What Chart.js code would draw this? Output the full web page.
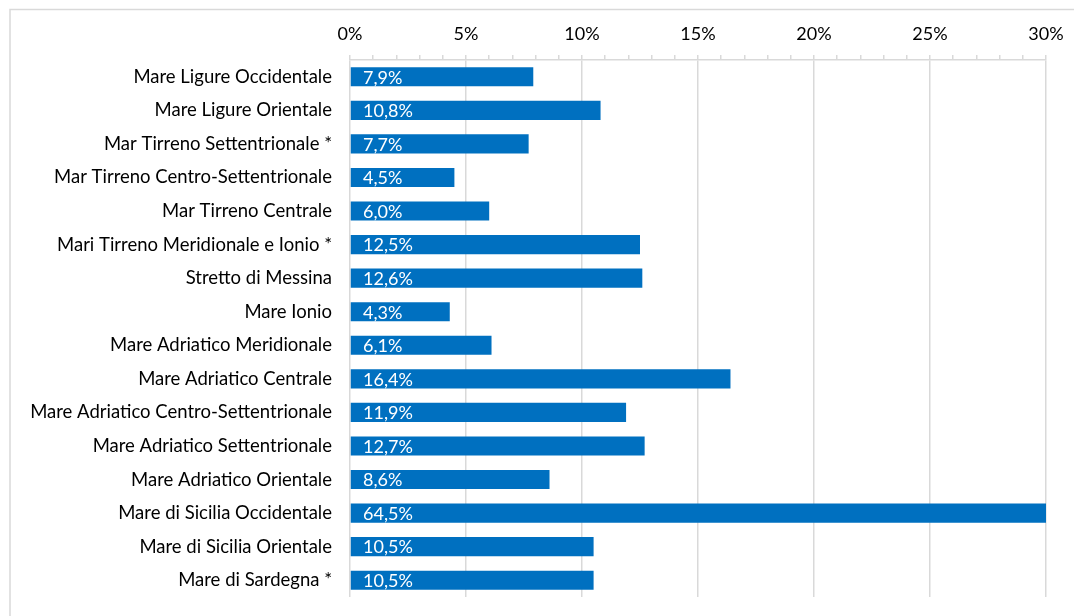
<!DOCTYPE html>
<html>
<head>
<meta charset="utf-8">
<script src="https://cdn.jsdelivr.net/npm/chart.js@4"></script>
<style>
  html, body { margin: 0; padding: 0; background: #fff; }
  #wrap { position: relative; width: 1074px; height: 616px; }
</style>
</head>
<body>
<div id="wrap"><canvas id="chart" width="1074" height="616"></canvas></div>
<script>
const categories = [
  "Mare Ligure Occidentale",
  "Mare Ligure Orientale",
  "Mar Tirreno Settentrionale *",
  "Mar Tirreno Centro-Settentrionale",
  "Mar Tirreno Centrale",
  "Mari Tirreno Meridionale e Ionio *",
  "Stretto di Messina",
  "Mare Ionio",
  "Mare Adriatico Meridionale",
  "Mare Adriatico Centrale",
  "Mare Adriatico Centro-Settentrionale",
  "Mare Adriatico Settentrionale",
  "Mare Adriatico Orientale",
  "Mare di Sicilia Occidentale",
  "Mare di Sicilia Orientale",
  "Mare di Sardegna *",
];
const values = [7.9, 10.8, 7.7, 4.5, 6.0, 12.5, 12.6, 4.3, 6.1, 16.4, 11.9, 12.7, 8.6, 64.5, 10.5, 10.5];
const xTicks = [0, 5, 10, 15, 20, 25, 30];

const FONT = "Lato";
const grey = "#d9d9d9";

// cornice grigia attorno al grafico
const framePlugin = {
  id: "frame",
  beforeDraw(chart) {
    const ctx = chart.ctx;
    ctx.save();
    ctx.strokeStyle = grey;
    ctx.lineWidth = 1.5;
    ctx.strokeRect(10, 9.5, 1100, 700);
    ctx.restore();
  },
};

// etichette dei valori dentro le barre
const labelPlugin = {
  id: "valueLabels",
  afterDatasetsDraw(chart) {
    const ctx = chart.ctx;
    const meta = chart.getDatasetMeta(0);
    const x0 = chart.scales.x.getPixelForValue(0);
    ctx.save();
    ctx.fillStyle = "#fff";
    ctx.font = "18px " + FONT;
    ctx.textBaseline = "middle";
    ctx.textAlign = "left";
    meta.data.forEach((bar, i) => {
      ctx.fillText(values[i].toFixed(1).replace(".", ",") + "%", x0 + 13, bar.y + 1);
    });
    ctx.restore();
  },
};

new Chart(document.getElementById("chart"), {
  type: "bar",
  data: {
    labels: categories,
    datasets: [
      {
        data: values,
        backgroundColor: "#0070c0",
        borderWidth: 0,
        barPercentage: 0.57,
        categoryPercentage: 1,
      },
    ],
  },
  options: {
    indexAxis: "y",
    responsive: false,
    animation: false,
    layout: { padding: { left: 0, right: 28, top: 0, bottom: 19 } },
    plugins: { legend: { display: false }, tooltip: { enabled: false } },
    scales: {
      x: {
        position: "top",
        min: 0,
        max: 30,
        afterBuildTicks: (scale) => {
          const t = [];
          for (let v = 0; v <= 30; v++) t.push({ value: v });
          scale.ticks = t;
        },
        afterFit: (scale) => {
          scale.height = 60;
          scale.paddingLeft = 0;
          scale.paddingRight = 0;
        },
        ticks: {
          autoSkip: false,
          maxRotation: 0,
          padding: 10,
          color: "#000",
          font: { family: FONT, size: 18 },
          callback: (v) => (xTicks.includes(v) ? v + "%" : ""),
        },
        grid: {
          color: (c) => (xTicks.includes(c.tick.value) ? grey : "rgba(0,0,0,0)"),
          tickColor: grey,
          tickLength: 5,
          lineWidth: 1.5,
        },
        border: { display: true, color: grey, width: 1.5 },
      },
      y: {
        afterFit: (scale) => {
          scale.width = 350;
          scale.paddingTop = 0;
          scale.paddingBottom = 0;
        },
        ticks: {
          padding: 10,
          color: "#000",
          font: { family: FONT, size: 18.5 },
        },
        grid: { display: false },
        border: { display: false },
      },
    },
  },
  plugins: [framePlugin, labelPlugin],
});
</script>
</body>
</html>
